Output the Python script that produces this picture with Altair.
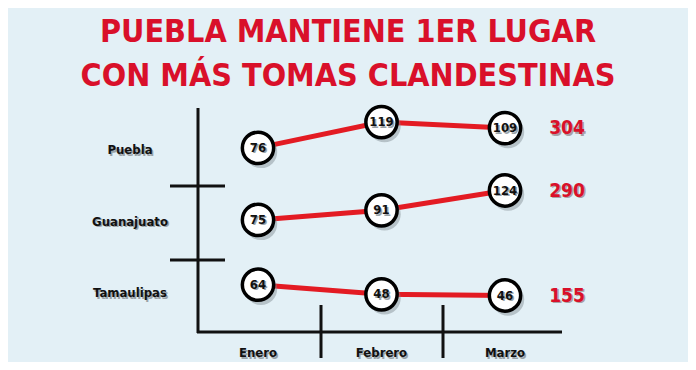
import altair as alt
import pandas as pd

# ---- data ----
states = ["Puebla", "Guanajuato", "Tamaulipas"]
months = ["Enero", "Febrero", "Marzo"]
puebla = [76, 119, 109]
guanajuato = [75, 91, 124]
tamaulipas = [64, 48, 46]
totals = [304, 290, 155]
title_lines = ["PUEBLA MANTIENE 1ER LUGAR", "CON MÁS TOMAS CLANDESTINAS"]

# ---- layout (vertical shift of each row, in value units) ----
row_shift = {"Puebla": 0, "Guanajuato": -119, "Tamaulipas": -216}

rows = []
for s, vals, tot in zip(states, [puebla, guanajuato, tamaulipas], totals):
    for m, v in zip(months, vals):
        rows.append({"estado": s, "mes": m, "valor": v, "total": tot})
df = pd.DataFrame(rows)
df["pos"] = df["valor"] + df["estado"].map(row_shift)

FONT = "DejaVu Sans Condensed, Liberation Sans Narrow, Liberation Sans, sans-serif"
RED_LINE = "#e31b23"
RED_TXT = "#d9102a"
BG = "#e3f0f6"

X = alt.X("mes:N", scale=alt.Scale(domain=months, range=[250, 497], padding=0), axis=None)
Y = alt.Y("pos:Q", scale=alt.Scale(domain=[-280.8, 309.2], nice=False, zero=False), axis=None)

base = alt.Chart(df)

line = base.mark_line(color=RED_LINE, strokeWidth=5).encode(x=X, y=Y, detail="estado:N")
circ_shadow = base.mark_circle(size=1050, color="#7f8a90", opacity=0.45, xOffset=3, yOffset=4).encode(x=X, y=Y)
circles = base.mark_circle(size=980, color="white", opacity=1, stroke="black", strokeWidth=3.5).encode(x=X, y=Y)
num_shadow = base.mark_text(font=FONT, fontWeight="bold", fontSize=13, color="#9aa3a8",
                            xOffset=1.5, yOffset=1.5).encode(x=X, y=Y, text="valor:Q")
nums = base.mark_text(font=FONT, fontWeight="bold", fontSize=13, color="#111111").encode(x=X, y=Y, text="valor:Q")

marzo = base.transform_filter(alt.datum.mes == "Marzo")
tot_shadow = marzo.mark_text(font=FONT, fontWeight="bold", fontSize=19, color="#a8a0a5",
                             dx=63.5, dy=1.5).encode(x=X, y=Y, text="total:Q")
tot_txt = marzo.mark_text(font=FONT, fontWeight="bold", fontSize=19, color=RED_TXT,
                          dx=62).encode(x=X, y=Y, text="total:Q")

# month labels
mdf = pd.DataFrame({"mes": months})
mon_shadow = alt.Chart(mdf).mark_text(font=FONT, fontWeight="bold", fontSize=13, color="#9aa3a8",
                                      dx=1.5, dy=1.5).encode(x=X, y=alt.value(345), text="mes:N")
mon_txt = alt.Chart(mdf).mark_text(font=FONT, fontWeight="bold", fontSize=13, color="#111111").encode(
    x=X, y=alt.value(345), text="mes:N")

# row labels
sdf = pd.DataFrame({"estado": states})
YS = alt.Y("estado:N", scale=alt.Scale(domain=states, range=[142, 285], padding=0), axis=None)
lab_shadow = alt.Chart(sdf).mark_text(font=FONT, fontWeight="bold", fontSize=13, color="#9aa3a8",
                                      dx=1.5, dy=1.5).encode(x=alt.value(122), y=YS, text="estado:N")
lab_txt = alt.Chart(sdf).mark_text(font=FONT, fontWeight="bold", fontSize=13, color="#111111").encode(
    x=alt.value(122), y=YS, text="estado:N")

# title
tdf = pd.DataFrame({"t": title_lines, "i": [0, 1]})
YT = alt.Y("i:O", scale=alt.Scale(domain=[0, 1], range=[24, 68], padding=0), axis=None)
title = alt.Chart(tdf).mark_text(font=FONT, fontWeight="bold", fontSize=32, color=RED_TXT).encode(
    x=alt.value(340), y=YT, text="t:N")

# decorative axis frame
one = pd.DataFrame({"a": [0]})
def rule(x1, x2, y1, y2):
    return alt.Chart(one).mark_rule(color="#111111", strokeWidth=3).encode(
        x=alt.value(x1), x2=alt.value(x2), y=alt.value(y1), y2=alt.value(y2))

frame = [
    rule(190, 190, 100, 325),
    rule(189, 554, 324, 324),
    rule(162, 217, 178, 178),
    rule(162, 217, 252, 252),
    rule(313, 313, 297, 350),
    rule(435, 435, 297, 350),
]

chart = alt.layer(
    *frame, line, circ_shadow, circles, num_shadow, nums, tot_shadow, tot_txt,
    mon_shadow, mon_txt, lab_shadow, lab_txt, title
).resolve_scale(y="independent").properties(
    width=680, height=354, autosize=alt.AutoSizeParams(type="none"), padding=0,
    background=BG
).configure_view(stroke=None)

chart.save("out.html", embed_options={"renderer": "svg", "actions": False})
